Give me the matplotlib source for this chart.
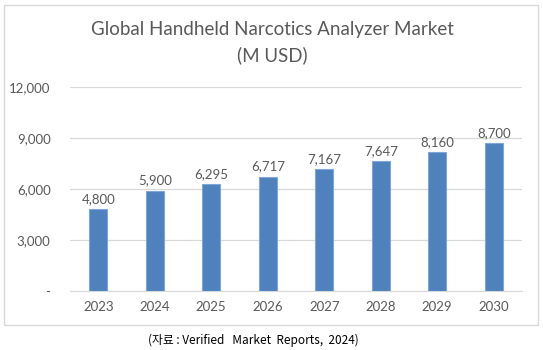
import matplotlib
matplotlib.use("Agg")
import matplotlib.pyplot as plt
from matplotlib.patches import Rectangle

# data
years = ["2023", "2024", "2025", "2026", "2027", "2028", "2029", "2030"]
values = [4800, 5900, 6295, 6717, 7167, 7647, 8160, 8700]
yticks = [0, 3000, 6000, 9000, 12000]
ytick_labels = ["-", "3,000", "6,000", "9,000", "12,000"]

plt.rcParams['font.family'] = ['Lato', 'DejaVu Sans']
grey = "#595959"

fig = plt.figure(figsize=(5.43, 3.5), dpi=100)
ax = fig.add_axes([70 / 543, 59 / 350, 452 / 543, 204 / 350])

# outer chart border
fig.patches.append(Rectangle((4 / 543, 25 / 350), 534 / 543, 320 / 350,
                             transform=fig.transFigure, fill=False,
                             edgecolor="#d9d9d9", linewidth=1.0))

x = range(len(years))
ax.bar(x, values, width=0.32, color="#4f81bd", edgecolor="#7fa6d6",
       linewidth=0.8, zorder=3)
for xi, v in zip(x, values):
    ax.text(xi, v + 250, f"{v:,}", ha="center", va="bottom",
            fontsize=9.5, color=grey)

ax.set_xlim(-0.5, len(years) - 0.5)
ax.set_ylim(0, 12000)
ax.set_xticks(list(x))
ax.set_xticklabels(years)
ax.set_yticks(yticks)
ax.set_yticklabels(ytick_labels)
ax.tick_params(axis="both", length=0, colors=grey, labelsize=9.5)
ax.tick_params(axis="y", pad=14)
ax.tick_params(axis="x", pad=7)
ax.grid(axis="y", color="#d9d9d9", linewidth=0.9, zorder=0)
for s in ["top", "right", "left"]:
    ax.spines[s].set_visible(False)
ax.spines["bottom"].set_color("#d9d9d9")

fig.text(272 / 543, 1 - 30 / 350, "Global Handheld Narcotics Analyzer Market",
         ha="center", va="center", fontsize=13.5, color=grey)
fig.text(272 / 543, 1 - 55 / 350, "(M USD)",
         ha="center", va="center", fontsize=13.5, color=grey)

fig.text(253 / 543, 10 / 350, "(자료 : Verified   Market  Reports,  2024)",
         ha="center", va="center", fontsize=8.5,
         family=['Noto Sans CJK KR', 'DejaVu Sans'], color="black")

fig.savefig("out.png", dpi=100)
